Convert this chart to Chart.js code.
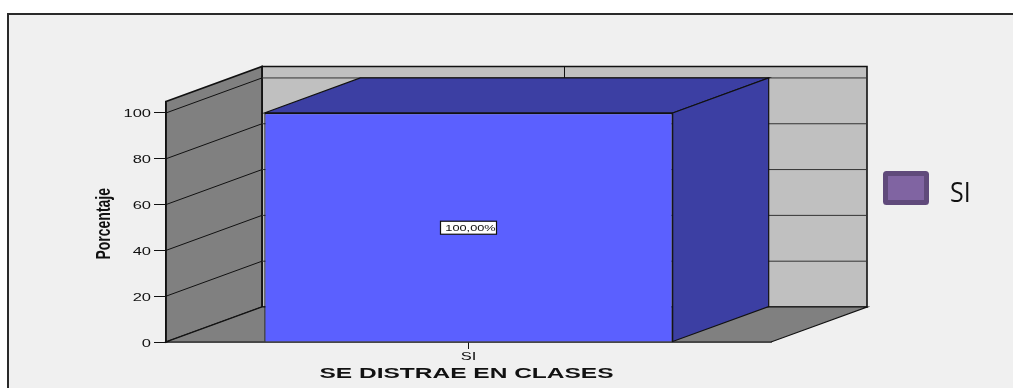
<!DOCTYPE html>
<html>
<head>
<meta charset="utf-8">
<script src="https://cdn.jsdelivr.net/npm/chart.js@4"></script>
<style>
html, body { margin: 0; padding: 0; width: 1013px; height: 388px; background: #fff; overflow: hidden; }
#panel { position: absolute; left: 7px; top: 13px; right: 0; bottom: 0; background: #f0f0f0; border-left: 2px solid #2a2a2a; border-top: 2px solid #2a2a2a; }
#wrap { position: absolute; left: 0; top: 0; width: 1013px; height: 388px; }
</style>
</head>
<body>
<div id="panel"></div>
<div id="wrap"><canvas id="chart"></canvas></div>
<script>
const categories = ['SI'];
const percentages = [100];
const yTicks = [0, 20, 40, 60, 80, 100];
const pointLabels = ['100,00%'];
const xTitle = 'SE DISTRAE EN CLASES';
const yTitle = 'Porcentaje';
const legendLabels = ['SI'];

const DEPTH_X = 96, DEPTH_Y = 35;
const INK = '#111';

// stretched text, the source picture was scaled wider than tall
function wideText(ctx, text, x, y, font, sx, align) {
    ctx.save();
    ctx.font = font;
    ctx.fillStyle = INK;
    ctx.textAlign = align || 'center';
    ctx.textBaseline = 'middle';
    ctx.translate(x, y);
    ctx.scale(sx, 1);
    ctx.fillText(text, 0, 0);
    ctx.restore();
}

function poly(ctx, pts, fill, lw) {
    ctx.beginPath();
    pts.forEach((p, i) => i ? ctx.lineTo(p[0], p[1]) : ctx.moveTo(p[0], p[1]));
    ctx.closePath();
    ctx.fillStyle = fill;
    ctx.fill();
    ctx.lineWidth = lw || 1.2;
    ctx.strokeStyle = INK;
    ctx.stroke();
}

function line(ctx, x1, y1, x2, y2, lw, color) {
    ctx.beginPath();
    ctx.moveTo(x1, y1);
    ctx.lineTo(x2, y2);
    ctx.lineWidth = lw;
    ctx.strokeStyle = color || INK;
    ctx.stroke();
}

const box3d = {
    id: 'box3d',
    beforeDatasetsDraw(chart) {
        const { ctx, chartArea: a, scales: { x, y } } = chart;
        const dx = DEPTH_X, dy = DEPTH_Y;

        // back wall, left wall, floor
        poly(ctx, [[a.left + dx, a.top - dy], [a.right + dx, a.top - dy], [a.right + dx, a.bottom - dy], [a.left + dx, a.bottom - dy]], '#c0c0c0', 1.6);
        poly(ctx, [[a.left, a.top], [a.left + dx, a.top - dy], [a.left + dx, a.bottom - dy], [a.left, a.bottom]], '#808080', 1.8);
        poly(ctx, [[a.left, a.bottom], [a.left + dx, a.bottom - dy], [a.right + dx, a.bottom - dy], [a.right, a.bottom]], '#808080', 1.2);

        yTicks.slice(1).forEach(v => {
            const p = y.getPixelForValue(v);
            line(ctx, a.left, p, a.left + dx, p - dy, 1);
            line(ctx, a.left + dx, p - dy, a.right + dx, p - dy, 1, '#333');
        });
        const cx = x.getPixelForValue(0);
        line(ctx, cx + dx, a.top - dy, cx + dx, y.getPixelForValue(100) - dy, 1);

        // bar top and side
        chart.getDatasetMeta(0).data.forEach(bar => {
            const half = bar.width / 2, l = bar.x - half, r = bar.x + half;
            poly(ctx, [[l, bar.y], [l + dx, bar.y - dy], [r + dx, bar.y - dy], [r, bar.y]], '#3c3fa3', 1.2);
            poly(ctx, [[r, bar.y], [r + dx, bar.y - dy], [r + dx, bar.base - dy], [r, bar.base]], '#3c3fa3', 1.2);
        });
    },
    afterDatasetsDraw(chart) {
        const { ctx, chartArea: a, scales: { x, y } } = chart;

        // value label, centred on the bar
        chart.getDatasetMeta(0).data.forEach((bar, i) => {
            const cy = (bar.y + bar.base) / 2;
            ctx.fillStyle = '#fff';
            ctx.strokeStyle = INK;
            ctx.lineWidth = 1.2;
            ctx.fillRect(bar.x - 28, cy - 6, 56, 13);
            ctx.strokeRect(bar.x - 28, cy - 6, 56, 13);
            wideText(ctx, pointLabels[i], bar.x + 2, cy + 1, '8.5px "Liberation Sans"', 1.5);
        });

        // axis texts
        yTicks.forEach(v => {
            wideText(ctx, String(v), a.left - 15, y.getPixelForValue(v) + 1.5, '11px "Liberation Sans"', 1.5, 'right');
        });
        categories.forEach((c, i) => {
            wideText(ctx, c, x.getPixelForValue(i), a.bottom + 14.5, '11px "Liberation Sans"', 1.5);
        });
        wideText(ctx, xTitle, x.getPixelForValue(0) - 2, a.bottom + 32, 'bold 14px "Liberation Sans"', 1.75);

        ctx.save();
        ctx.translate(104, (a.top + a.bottom) / 2 + 2);
        ctx.rotate(-Math.PI / 2);
        ctx.font = 'bold 14px "Liberation Sans"';
        ctx.fillStyle = INK;
        ctx.textAlign = 'center';
        ctx.textBaseline = 'middle';
        ctx.scale(1, 1.5);
        ctx.fillText(yTitle, 0, 0);
        ctx.restore();

        // legend
        ctx.beginPath();
        ctx.roundRect(885.5, 173.5, 41, 29, 1);
        ctx.fillStyle = '#8064a2';
        ctx.fill();
        ctx.lineWidth = 5;
        ctx.strokeStyle = '#604a7b';
        ctx.stroke();
        ctx.save();
        ctx.translate(950, 194);
        ctx.scale(1, 1.1);
        ctx.font = '25px "Open Sans"';
        ctx.fillStyle = INK;
        ctx.textAlign = 'left';
        ctx.textBaseline = 'middle';
        ctx.fillText(legendLabels[0], 0, 0);
        ctx.restore();
    }
};

new Chart(document.getElementById('chart'), {
    type: 'bar',
    data: {
        labels: categories,
        datasets: [{
            data: percentages,
            backgroundColor: '#5b60ff',
            borderColor: INK,
            borderWidth: 1.2,
            barPercentage: 0.675,
            categoryPercentage: 1
        }]
    },
    options: {
        responsive: true,
        maintainAspectRatio: false,
        animation: false,
        layout: { padding: { top: 101.5, right: 242 } },
        plugins: { legend: { display: false }, tooltip: { enabled: false } },
        scales: {
            x: {
                afterFit: s => { s.height = 46; },
                ticks: { display: false },
                border: { color: INK, width: 1.5 },
                grid: { offset: false, drawOnChartArea: false, tickLength: 7, color: INK }
            },
            y: {
                min: 0,
                max: 105,
                afterFit: s => { s.width = 166; },
                afterBuildTicks: s => { s.ticks = yTicks.map(v => ({ value: v })); },
                ticks: { display: false },
                border: { color: INK, width: 1.5 },
                grid: { drawOnChartArea: false, tickLength: 12, color: INK }
            }
        }
    },
    plugins: [box3d]
});
</script>
</body>
</html>
